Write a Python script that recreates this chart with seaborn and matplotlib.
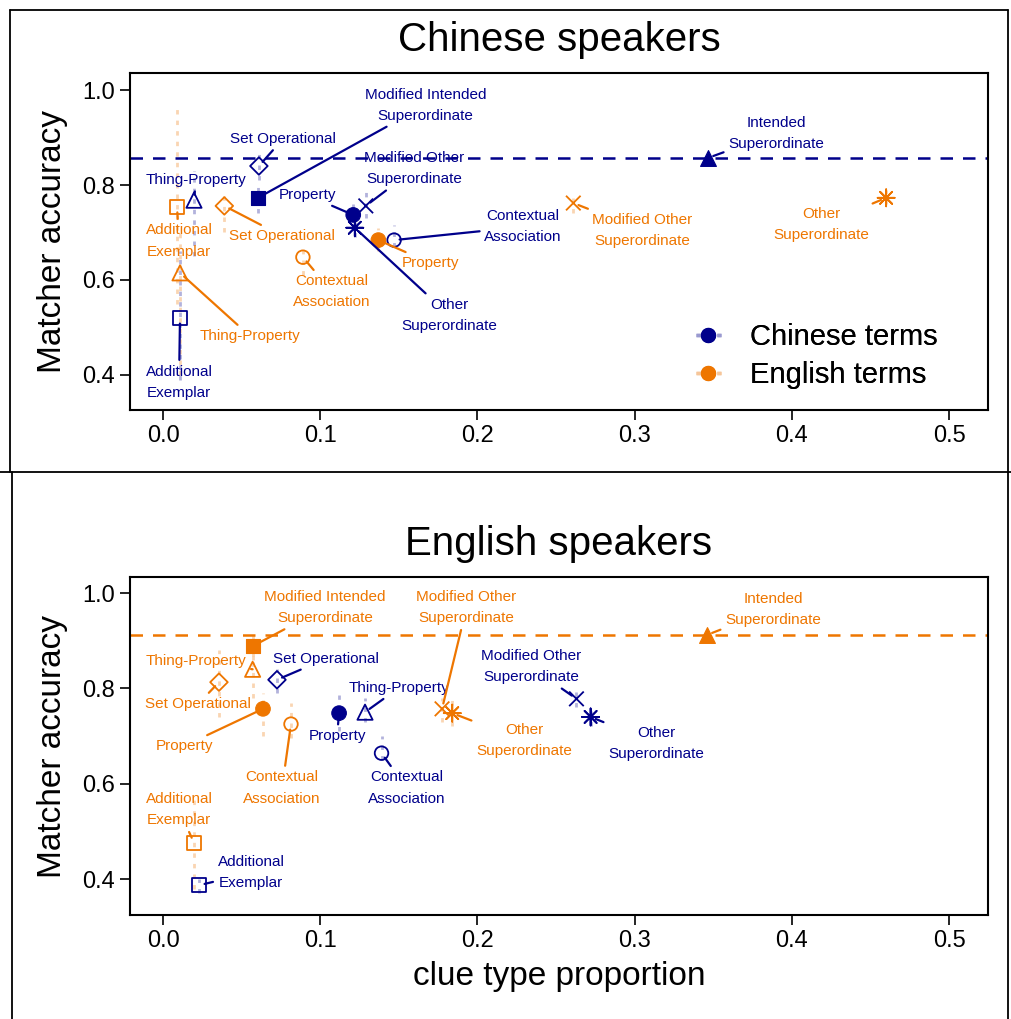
import numpy as np
import pandas as pd
import matplotlib
matplotlib.use("Agg")
import matplotlib.pyplot as plt
import seaborn as sns
from matplotlib.lines import Line2D

# ---------------- data ----------------
clue_types = ["Additional Exemplar", "Contextual Association", "Intended Superordinate",
              "Modified Intended Superordinate", "Modified Other Superordinate",
              "Other Superordinate", "Property", "Set Operational", "Thing-Property"]
clue_labels = ["Additional\nExemplar", "Contextual\nAssociation", "Intended\nSuperordinate",
               "Modified Intended\nSuperordinate", "Modified Other\nSuperordinate",
               "Other\nSuperordinate", "Property", "Set Operational", "Thing-Property"]
nan = np.nan

# Chinese speakers panel
cn_zh_prop = [0.0108, 0.147, 0.3467, 0.0604, 0.129, 0.122, 0.121, 0.061, 0.0197]
cn_zh_acc  = [0.520, 0.684, 0.857, 0.773, 0.756, 0.710, 0.737, 0.840, 0.768]
cn_zh_lo   = [0.39, 0.67, 0.852, 0.74, 0.73, 0.69, 0.71, 0.81, 0.65]
cn_zh_hi   = [0.66, 0.715, 0.862, 0.80, 0.785, 0.73, 0.76, 0.87, 0.83]
cn_en_prop = [0.0089, 0.089, nan, nan, 0.261, 0.460, 0.137, 0.039, 0.0108]
cn_en_acc  = [0.754, 0.648, nan, nan, 0.762, 0.773, 0.684, 0.756, 0.615]
cn_en_lo   = [0.55, 0.61, nan, nan, 0.74, 0.76, 0.66, 0.70, 0.40]
cn_en_hi   = [0.96, 0.67, nan, nan, 0.78, 0.79, 0.71, 0.79, 0.70]

# English speakers panel
en_zh_prop = [0.023, 0.139, nan, nan, 0.263, 0.272, 0.112, 0.0725, 0.1285]
en_zh_acc  = [0.387, 0.664, nan, nan, 0.778, 0.740, 0.748, 0.818, 0.750]
en_zh_lo   = [0.37, 0.65, nan, nan, 0.76, 0.72, 0.71, 0.79, 0.73]
en_zh_hi   = [0.40, 0.70, nan, nan, 0.80, 0.76, 0.785, 0.84, 0.78]
en_en_prop = [0.0197, 0.0814, 0.346, 0.0573, 0.1775, 0.184, 0.0636, 0.0356, 0.057]
en_en_acc  = [0.476, 0.725, 0.912, 0.889, 0.757, 0.748, 0.757, 0.813, 0.840]
en_en_lo   = [0.38, 0.695, 0.905, 0.86, 0.73, 0.72, 0.70, 0.74, 0.78]
en_en_hi   = [0.57, 0.77, 0.918, 0.92, 0.78, 0.78, 0.79, 0.88, 0.88]

term_names = ["Chinese terms", "English terms"]
panel_titles = ["Chinese speakers", "English speakers"]
x_ticks = [0.0, 0.1, 0.2, 0.3, 0.4, 0.5]
y_ticks = [0.4, 0.6, 0.8, 1.0]

# ---------------- layout / style ----------------
NAVY = "#00008B"
ORANGE = "#EE7600"
palette = {"Chinese terms": NAVY, "English terms": ORANGE}
light = {"Chinese terms": "#9a9ad0", "English terms": "#f6c69a"}
marker_map = {
    "Additional Exemplar": ("s", False, 95),
    "Contextual Association": ("o", False, 95),
    "Intended Superordinate": ("^", True, 130),
    "Modified Intended Superordinate": ("s", True, 95),
    "Modified Other Superordinate": ("x", None, 110),
    "Other Superordinate": ((8, 2, 0), None, 150),
    "Property": ("o", True, 110),
    "Set Operational": ("D", False, 80),
    "Thing-Property": ("^", False, 120),
}

# label text positions (data coordinates), per panel and term set
label_pos = {
    (0, "Chinese terms"): [(0.0102, 0.385), (0.229, 0.712), (0.390, 0.909), (0.167, 0.968),
                           (0.160, 0.834), (0.182, 0.526), (0.0916, 0.779), (0.0763, 0.897),
                           (0.021, 0.811)],
    (0, "English terms"): [(0.0102, 0.682), (0.1075, 0.575), None, None,
                           (0.305, 0.705), (0.419, 0.716), (0.170, 0.636), (0.0757, 0.693),
                           (0.0553, 0.482)],
    (1, "Chinese terms"): [(0.056, 0.413), (0.155, 0.591), None, None,
                           (0.234, 0.845), (0.3136, 0.685), (0.1107, 0.700), (0.1037, 0.862),
                           (0.150, 0.801)],
    (1, "English terms"): [(0.0102, 0.545), (0.0757, 0.591), (0.388, 0.966), (0.103, 0.969),
                           (0.193, 0.969), (0.2296, 0.690), (0.0134, 0.679), (0.0223, 0.767),
                           (0.021, 0.857)],
}

def make_df(prop, acc, lo, hi, terms):
    return pd.DataFrame({"clue": clue_types, "label": clue_labels, "prop": prop,
                         "acc": acc, "lo": lo, "hi": hi, "terms": terms})

panels = [
    pd.concat([make_df(cn_zh_prop, cn_zh_acc, cn_zh_lo, cn_zh_hi, "Chinese terms"),
               make_df(cn_en_prop, cn_en_acc, cn_en_lo, cn_en_hi, "English terms")]),
    pd.concat([make_df(en_zh_prop, en_zh_acc, en_zh_lo, en_zh_hi, "Chinese terms"),
               make_df(en_en_prop, en_en_acc, en_en_lo, en_en_hi, "English terms")]),
]
intended_terms = ["Chinese terms", "English terms"]  # whose intended line is drawn per panel

sns.set_theme(style="ticks")
plt.rcParams["font.family"] = ["Liberation Sans", "DejaVu Sans"]
plt.rcParams["text.color"] = "black"
plt.rcParams["axes.labelcolor"] = "black"
plt.rcParams["xtick.color"] = "black"
plt.rcParams["ytick.color"] = "black"

W, H = 1011, 1019
fig = plt.figure(figsize=(W / 100, H / 100), dpi=100)

def fx(px): return px / W
def fy(py): return 1 - py / H

ax_boxes = [(130, 73, 988, 410), (130, 577, 988, 915)]
ylims = [(0.3263, 1.0358), (0.3245, 1.0336)]

for pi, df in enumerate(panels):
    l, t, r, b = ax_boxes[pi]
    ax = fig.add_axes([fx(l), fy(b), fx(r) - fx(l), fy(t) - fy(b)])
    df = df.dropna(subset=["prop"]).reset_index(drop=True)

    # error bars
    for terms, sub in df.groupby("terms"):
        ax.vlines(sub["prop"], sub["lo"], sub["hi"], colors=palette[terms], alpha=0.3,
                  linestyles=(0, (1.6, 2.2)), linewidth=2.0, zorder=1)

    # intended superordinate reference line
    it = intended_terms[pi]
    iv = df[(df["terms"] == it) & (df["clue"] == "Intended Superordinate")]["acc"].values[0]
    ax.axhline(iv, color=palette[it], linestyle=(0, (5, 4)), linewidth=1.8, zorder=1)

    # points
    for clue in clue_types:
        sub = df[df["clue"] == clue]
        if sub.empty:
            continue
        mk, filled, sz = marker_map[clue]
        sns.scatterplot(data=sub, x="prop", y="acc", hue="terms", palette=palette,
                        marker=mk, s=sz, legend=False, ax=ax, zorder=3)
        coll = ax.collections[-1]
        cols = [palette[tm] for tm in sub["terms"]]
        coll.set_edgecolors(cols)
        if filled:
            coll.set_facecolors(cols)
            coll.set_linewidths(0.8)
        else:
            coll.set_facecolors("none")
            coll.set_linewidths(1.3)

    # labels with leader segments
    for _, row in df.iterrows():
        pos = label_pos[(pi, row["terms"])][clue_types.index(row["clue"])]
        if pos is None:
            continue
        ax.annotate(row["label"], xy=(row["prop"], row["acc"]), xytext=pos,
                    ha="center", va="center", fontsize=11, color=palette[row["terms"]],
                    linespacing=1.65, zorder=4,
                    arrowprops=dict(arrowstyle="-", color=palette[row["terms"]], lw=1.6,
                                    shrinkA=1, shrinkB=4))

    ax.set_xlim(-0.021, 0.5248)
    ax.set_ylim(*ylims[pi])
    ax.set_xticks(x_ticks)
    ax.set_xticklabels([f"{v:.1f}" for v in x_ticks])
    ax.set_yticks(y_ticks)
    ax.set_yticklabels([f"{v:.1f}" for v in y_ticks])
    ax.tick_params(axis="both", labelsize=17, length=7, width=1.2, color="black",
                   labelcolor="black", pad=4)
    for sp in ax.spines.values():
        sp.set_visible(True)
        sp.set_linewidth(1.5)
        sp.set_color("black")
    ax.set_ylabel("Matcher accuracy", fontsize=24, labelpad=10)
    if pi == 1:
        ax.set_xlabel("clue type proportion", fontsize=24, labelpad=6)
    else:
        ax.set_xlabel("")
    ax.set_title(panel_titles[pi], fontsize=29, pad=16)

    handles = [Line2D([0], [0], color=light[tm], linestyle=(0, (1.5, 1.5)), linewidth=2.5,
                      marker="o", markersize=10, markerfacecolor=palette[tm],
                      markeredgecolor=palette[tm])
               for tm in term_names]
    ax.legend(handles, term_names, loc="center left",
              bbox_to_anchor=((696 - l) / (r - l), (b - 356) / (b - t)),
              frameon=False, fontsize=21, handlelength=0.85, handletextpad=1.0,
              labelspacing=0.33, borderpad=0, borderaxespad=0)

# panel frames
fig.add_artist(plt.Line2D([fx(10), fx(1008)], [fy(10), fy(10)], color="black", lw=1.3))
fig.add_artist(plt.Line2D([fx(10), fx(10)], [fy(10), fy(472)], color="black", lw=1.3))
fig.add_artist(plt.Line2D([fx(1008), fx(1008)], [fy(10), fy(472)], color="black", lw=1.3))
fig.add_artist(plt.Line2D([fx(0), fx(1011)], [fy(472), fy(472)], color="black", lw=1.3))
fig.add_artist(plt.Line2D([fx(12), fx(12)], [fy(472), 0], color="black", lw=1.3))
fig.add_artist(plt.Line2D([fx(1008), fx(1008)], [fy(472), 0], color="black", lw=1.3))

fig.savefig("out.png", dpi=100)
